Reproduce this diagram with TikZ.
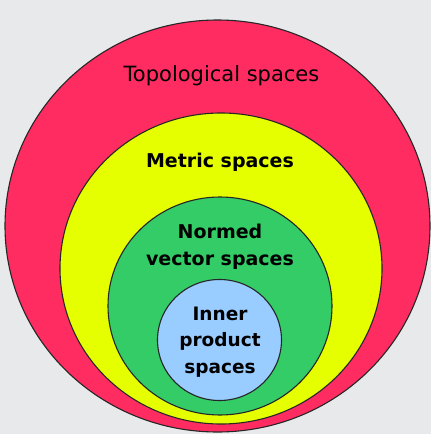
\documentclass[tikz,border=0pt]{standalone}
\usepackage{fontspec}
\setmainfont{DejaVu Sans}
\usepackage{xcolor}
\usepackage{tikz}
\definecolor{sback}{RGB}{231,233,235}
\definecolor{sred}{RGB}{255,44,98}
\definecolor{syellow}{RGB}{230,255,0}
\definecolor{sgreen}{RGB}{51,204,102}
\definecolor{sblue}{RGB}{153,204,255}

\begin{document}
\begin{tikzpicture}[x=1pt,y=-1pt,
    setline/.style={draw=black!85, line width=1.1pt},
    setlabel/.style={anchor=base, align=center, inner sep=0pt}]
        \fill[sback] (0,0) rectangle (431,434);
        \useasboundingbox (0,0) rectangle (431,434);

        \draw[setline, fill=sred] (217.5,226) ellipse [x radius=212.5, y radius=206];
        \node[setlabel, font=\fontsize{21}{27}\selectfont] (topo) at (221.5,81) {Topological spaces};

        \draw[setline, fill=syellow] (221,268.5) ellipse [x radius=161, y radius=155.5];
        \node[setlabel, font=\bfseries\fontsize{19}{27}\selectfont] (metric) at (220,167) {Metric spaces};

        \draw[setline, fill=sgreen] (220,306) ellipse [x radius=112, y radius=109];
        \node[setlabel, font=\bfseries\fontsize{19}{27}\selectfont] (normed) at (220,265) {Normed\\vector spaces};

        \draw[setline, fill=sblue] (219.5,340) ellipse [x radius=62, y radius=60.5];
        \node[setlabel, font=\bfseries\fontsize{18.5}{26.5}\selectfont] (inner) at (220,373) {Inner\\product\\spaces};
    \end{tikzpicture}
\end{document}
